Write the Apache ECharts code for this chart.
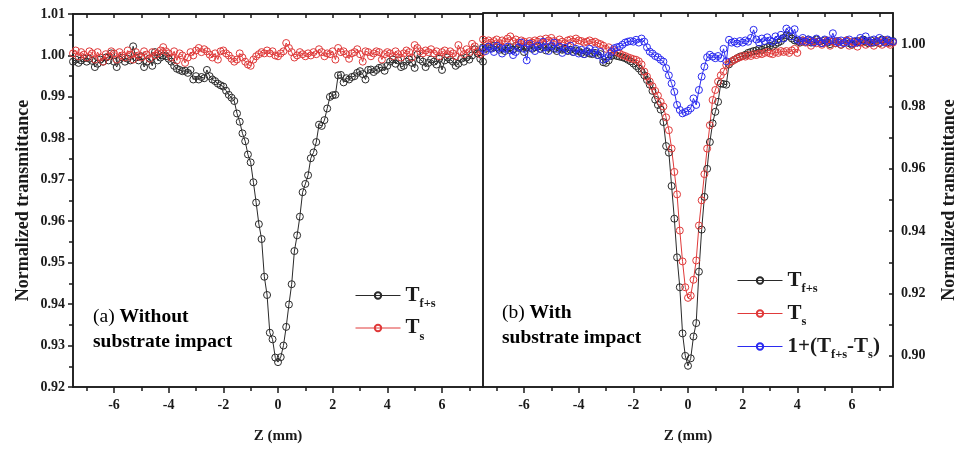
<!DOCTYPE html>
<html>
<head>
<meta charset="utf-8">
<script src="https://cdn.jsdelivr.net/npm/echarts@6/dist/echarts.min.js"></script>
<style>html,body{margin:0;padding:0;background:#fff;}#c{width:956px;height:449px;}</style>
</head>
<body>
<div id="c"></div>
<script>
// Z positions (mm)
const zs = [
-7.5,-7.4,-7.3,-7.2,-7.1,-7.0,-6.9,-6.8,-6.7,-6.6,
-6.5,-6.4,-6.3,-6.2,-6.1,-6.0,-5.9,-5.8,-5.7,-5.6,
-5.5,-5.4,-5.3,-5.2,-5.1,-5.0,-4.9,-4.8,-4.7,-4.6,
-4.5,-4.4,-4.3,-4.2,-4.1,-4.0,-3.9,-3.8,-3.7,-3.6,
-3.5,-3.4,-3.3,-3.2,-3.1,-3.0,-2.9,-2.8,-2.7,-2.6,
-2.5,-2.4,-2.3,-2.2,-2.1,-2.0,-1.9,-1.8,-1.7,-1.6,
-1.5,-1.4,-1.3,-1.2,-1.1,-1.0,-0.9,-0.8,-0.7,-0.6,
-0.5,-0.4,-0.3,-0.2,-0.1,0.0,0.1,0.2,0.3,0.4,
0.5,0.6,0.7,0.8,0.9,1.0,1.1,1.2,1.3,1.4,
1.5,1.6,1.7,1.8,1.9,2.0,2.1,2.2,2.3,2.4,
2.5,2.6,2.7,2.8,2.9,3.0,3.1,3.2,3.3,3.4,
3.5,3.6,3.7,3.8,3.9,4.0,4.1,4.2,4.3,4.4,
4.5,4.6,4.7,4.8,4.9,5.0,5.1,5.2,5.3,5.4,
5.5,5.6,5.7,5.8,5.9,6.0,6.1,6.2,6.3,6.4,
6.5,6.6,6.7,6.8,6.9,7.0,7.1,7.2,7.3,7.4,
7.5];

// (a) Without substrate impact
const aTfs = [
0.9985,0.9990,0.9982,0.9988,0.9993,0.9985,0.9992,0.9987,0.9972,0.9980,
0.9990,0.9985,0.9995,0.9988,1.0005,0.9985,0.9972,0.9990,0.9995,0.9985,
0.9992,0.9988,1.0022,0.9995,0.9988,0.9998,0.9972,0.9985,0.9993,0.9975,
1.0008,0.9988,0.9995,1.0000,0.9998,0.9992,0.9985,0.9975,0.9968,0.9965,
0.9962,0.9963,0.9958,0.9965,0.9942,0.9950,0.9942,0.9948,0.9945,0.9965,
0.9950,0.9942,0.9938,0.9932,0.9928,0.9925,0.9915,0.9905,0.9898,0.9890,
0.9860,0.9840,0.9812,0.9793,0.9761,0.9742,0.9694,0.9645,0.9593,0.9557,
0.9466,0.9422,0.9331,0.9315,0.9271,0.9260,0.9272,0.9300,0.9345,0.9399,
0.9448,0.9528,0.9566,0.9611,0.9670,0.9690,0.9711,0.9752,0.9766,0.9791,
0.9833,0.9830,0.9844,0.9872,0.9900,0.9904,0.9905,0.9952,0.9953,0.9935,
0.9945,0.9942,0.9948,0.9950,0.9958,0.9962,0.9955,0.9942,0.9965,0.9966,
0.9960,0.9965,0.9970,0.9972,0.9963,0.9975,0.9985,0.9990,0.9980,0.9988,
0.9972,0.9975,0.9985,0.9990,0.9982,0.9970,1.0002,0.9990,0.9985,0.9972,
0.9982,0.9990,0.9985,0.9978,0.9992,0.9965,0.9988,0.9995,0.9990,0.9985,
0.9975,0.9980,0.9992,0.9985,0.9995,0.9990,1.0000,1.0015,1.0005,0.9992,
0.9985];
const aTs = [
1.0005,1.0012,0.9998,1.0008,1.0002,0.9995,1.0010,1.0005,0.9990,1.0008,
0.9995,0.9985,1.0003,0.9998,1.0010,1.0005,0.9990,1.0008,1.0000,0.9995,
1.0012,1.0002,0.9990,1.0008,1.0000,0.9995,1.0010,1.0002,0.9992,1.0008,
1.0000,1.0005,1.0012,1.0020,1.0010,1.0005,0.9995,1.0010,0.9988,1.0005,
1.0000,0.9982,0.9995,1.0008,1.0000,1.0012,1.0018,1.0008,1.0015,1.0010,
1.0002,0.9995,1.0005,0.9990,1.0010,1.0012,1.0005,1.0000,0.9992,0.9985,
0.9990,1.0005,0.9995,0.9985,0.9978,0.9975,0.9990,0.9998,1.0003,1.0008,
1.0005,1.0012,1.0005,1.0010,1.0000,0.9998,1.0005,1.0010,1.0030,1.0018,
1.0008,0.9995,1.0000,1.0008,1.0003,0.9998,1.0005,1.0000,1.0008,1.0003,
1.0015,1.0008,0.9998,1.0005,1.0003,1.0010,0.9990,1.0018,1.0008,1.0010,
1.0003,0.9992,1.0005,1.0008,1.0015,1.0003,0.9985,1.0010,1.0008,0.9998,
1.0005,1.0010,1.0008,0.9990,1.0003,1.0008,1.0005,0.9998,1.0010,1.0003,
0.9995,1.0005,1.0012,1.0008,0.9995,1.0025,1.0018,1.0010,1.0005,1.0012,
1.0008,1.0015,1.0005,1.0010,0.9998,1.0008,1.0012,1.0003,1.0010,1.0005,
0.9998,1.0025,1.0010,1.0003,1.0015,1.0008,1.0028,1.0022,1.0010,1.0003,
1.0008];

// (b) With substrate impact
const bTfs = [
0.9990,0.9985,0.9992,0.9988,0.9995,0.9990,0.9982,0.9988,0.9978,0.9985,
0.9990,0.9983,0.9995,0.9988,0.9992,0.9975,0.9990,0.9995,0.9985,0.9990,
0.9992,0.9985,0.9990,0.9980,0.9988,0.9992,0.9985,0.9978,0.9988,0.9982,
0.9985,0.9978,0.9982,0.9975,0.9980,0.9978,0.9972,0.9968,0.9975,0.9970,
0.9968,0.9972,0.9965,0.9968,0.9942,0.9940,0.9948,0.9962,0.9965,0.9962,
0.9960,0.9958,0.9955,0.9950,0.9945,0.9938,0.9930,0.9922,0.9912,0.9900,
0.9885,0.9870,0.9850,0.9822,0.9805,0.9790,0.9750,0.9673,0.9652,0.9545,
0.9440,0.9316,0.9220,0.9072,0.9000,0.8968,0.8992,0.9062,0.9105,0.9270,
0.9405,0.9510,0.9600,0.9686,0.9746,0.9783,0.9815,0.9874,0.9872,0.9870,
0.9935,0.9945,0.9950,0.9955,0.9960,0.9962,0.9966,0.9972,0.9975,0.9978,
0.9980,0.9985,0.9982,0.9988,0.9990,0.9995,0.9992,1.0000,1.0005,1.0010,
1.0020,1.0028,1.0025,1.0018,1.0012,1.0010,1.0005,1.0012,1.0008,1.0015,
1.0005,1.0010,1.0015,1.0008,1.0003,1.0012,1.0005,1.0000,1.0008,1.0003,
1.0010,0.9998,1.0005,1.0012,1.0003,0.9998,1.0008,1.0010,1.0005,1.0015,
1.0008,1.0003,1.0012,1.0005,1.0010,1.0003,1.0015,1.0008,1.0012,1.0005,
1.0010];
const bTs = [
1.0015,1.0008,1.0012,1.0005,1.0010,1.0015,1.0003,1.0012,1.0008,1.0018,
1.0025,1.0010,1.0015,1.0005,1.0012,1.0008,1.0002,1.0010,1.0005,1.0012,
1.0008,1.0015,1.0005,1.0018,1.0012,1.0020,1.0010,1.0005,1.0015,1.0008,
1.0003,1.0012,1.0015,1.0008,1.0018,1.0012,1.0010,1.0005,1.0008,1.0012,
1.0005,1.0008,1.0003,1.0000,0.9995,0.9985,0.9990,0.9978,0.9982,0.9975,
0.9970,0.9965,0.9962,0.9958,0.9955,0.9952,0.9950,0.9945,0.9935,0.9912,
0.9896,0.9880,0.9865,0.9850,0.9835,0.9815,0.9800,0.9765,0.9724,0.9665,
0.9590,0.9518,0.9402,0.9303,0.9220,0.9186,0.9193,0.9244,0.9306,0.9418,
0.9499,0.9583,0.9665,0.9740,0.9821,0.9853,0.9880,0.9900,0.9912,0.9933,
0.9940,0.9945,0.9950,0.9955,0.9958,0.9962,0.9960,0.9965,0.9962,0.9968,
0.9965,0.9970,0.9968,0.9972,0.9975,0.9970,0.9968,0.9975,0.9972,0.9978,
0.9975,0.9978,0.9972,0.9980,0.9985,0.9972,1.0008,1.0012,1.0005,1.0010,
0.9995,1.0008,1.0003,1.0010,0.9998,1.0005,1.0012,0.9995,1.0008,1.0003,
1.0010,0.9998,1.0005,1.0012,0.9995,1.0008,1.0003,0.9992,1.0010,1.0005,
0.9998,1.0008,1.0003,0.9995,1.0010,1.0005,0.9998,1.0012,1.0003,0.9998,
1.0005];
const bDiff = [
0.9985,0.9978,0.9992,0.9985,0.9975,0.9995,0.9988,0.9970,0.9985,0.9992,
0.9980,0.9965,0.9975,0.9990,1.0005,0.9985,0.9948,1.0002,0.9988,0.9978,
0.9995,0.9985,1.0008,0.9990,0.9978,0.9995,1.0005,0.9985,0.9992,0.9972,
0.9988,0.9980,0.9995,0.9975,0.9985,0.9970,0.9982,0.9968,0.9978,0.9985,
0.9972,0.9980,0.9965,0.9975,0.9950,0.9955,0.9962,0.9975,0.9987,0.9990,
0.9992,0.9998,1.0005,1.0008,1.0010,1.0008,1.0014,1.0005,1.0018,1.0008,
0.9990,0.9976,0.9970,0.9962,0.9958,0.9950,0.9944,0.9923,0.9900,0.9874,
0.9847,0.9805,0.9789,0.9778,0.9782,0.9786,0.9794,0.9826,0.9805,0.9853,
0.9896,0.9928,0.9958,0.9966,0.9960,0.9955,0.9962,0.9955,0.9985,0.9945,
1.0014,1.0005,1.0008,1.0002,1.0010,1.0005,1.0012,1.0008,1.0020,1.0046,
1.0015,1.0005,1.0018,1.0010,1.0022,1.0012,1.0008,1.0025,1.0015,1.0030,
1.0018,1.0050,1.0042,1.0025,1.0048,1.0015,1.0010,1.0020,1.0008,1.0015,
1.0012,1.0005,1.0018,1.0010,1.0003,1.0015,1.0008,1.0012,1.0035,1.0010,
1.0005,1.0012,1.0003,1.0008,1.0015,1.0002,1.0010,1.0005,1.0020,1.0012,
1.0025,1.0010,1.0005,1.0015,1.0008,1.0020,1.0012,1.0005,1.0015,1.0010,
1.0008];

// tick labels / tick positions
const xLabelTicks = [-6,-4,-2,0,2,4,6];
const xMinorTicks = [-7,-5,-3,-1,1,3,5,7];
const xAllTicks = [-7,-6,-5,-4,-3,-2,-1,0,1,2,3,4,5,6,7];
const yRightLabels = [0.90,0.92,0.94,0.96,0.98,1.00];
const yRightTicks = [0.90,0.91,0.92,0.93,0.94,0.95,0.96,0.97,0.98,0.99,1.00];

const FONT = "'Liberation Serif','Times New Roman',serif";
const INK = '#1a1a1a';
const BLACK = '#2a2a2a', RED = '#e03a3a', BLUE = '#2b2bf0';

function pts(arr){ return zs.map((z,i)=>[z, arr[i]]); }

const legendRich = {
  m:{fontFamily:FONT,fontSize:21,fontWeight:'bold',color:INK,lineHeight:30,verticalAlign:'middle'},
  s:{fontFamily:FONT,fontSize:12.5,fontWeight:'bold',color:INK,lineHeight:11,verticalAlign:'bottom'}
};
function legendFmt(name){
  if(name==='Tf+s') return '{m|T}{s|f+s}';
  if(name==='Ts') return '{m|T}{s|s}';
  return '{m|1+(T}{s|f+s}{m|-T}{s|s}{m|)}';
}

const axLine = {show:true, onZero:false, lineStyle:{color:INK,width:1.5}};
const tickLabel = {fontFamily:FONT,fontWeight:'bold',fontSize:14,color:INK};

function xAxes(g){
  return [
    {type:'value',gridIndex:g,position:'bottom',min:-7.5,max:7.5,
     axisLine:axLine,splitLine:{show:false},
     axisTick:{show:true,customValues:xLabelTicks,length:6,lineStyle:{color:INK,width:1.5}},
     axisLabel:Object.assign({customValues:xLabelTicks,margin:11},tickLabel),
     name:'Z (mm)',nameLocation:'middle',nameGap:42,
     nameTextStyle:{fontFamily:FONT,fontWeight:'bold',fontSize:15,color:INK}},
    {type:'value',gridIndex:g,position:'bottom',min:-7.5,max:7.5,
     axisLine:{show:false,onZero:false},splitLine:{show:false},
     axisTick:{show:true,customValues:xMinorTicks,length:4,lineStyle:{color:INK,width:1.5}},
     axisLabel:{show:false}},
    {type:'value',gridIndex:g,position:'top',min:-7.5,max:7.5,
     axisLine:axLine,splitLine:{show:false},
     axisTick:{show:true,inside:true,customValues:xAllTicks,length:4,lineStyle:{color:INK,width:1.5}},
     axisLabel:{show:false}}
  ];
}

const option = {
  backgroundColor:'#fff',
  animation:false,
  grid:[
    {left:73,top:14,width:410,height:373,show:true,borderColor:INK,borderWidth:1.5,containLabel:false,outerBoundsMode:'none'},
    {left:483,top:13,width:410,height:374,show:true,borderColor:INK,borderWidth:1.5,containLabel:false,outerBoundsMode:'none'}
  ],
  xAxis:[].concat(xAxes(0), xAxes(1)),
  yAxis:[
    {type:'value',gridIndex:0,position:'left',min:0.92,max:1.01,interval:0.01,
     axisLine:axLine,splitLine:{show:false},
     axisTick:{show:true,length:5,lineStyle:{color:INK,width:1.5}},
     minorTick:{show:true,splitNumber:2,length:4,lineStyle:{color:INK,width:1.5}},
     axisLabel:Object.assign({margin:8,formatter:v=>v.toFixed(2)},tickLabel),
     name:'Normalized transmittance',nameLocation:'middle',nameGap:41,nameRotate:90,
     nameTextStyle:{fontFamily:FONT,fontWeight:'bold',fontSize:18,color:INK}},
    {type:'value',gridIndex:1,position:'right',min:0.89,max:1.01,
     axisLine:axLine,splitLine:{show:false},
     axisTick:{show:true,inside:true,customValues:yRightTicks,length:4,lineStyle:{color:INK,width:1.5}},
     axisLabel:Object.assign({customValues:yRightLabels,margin:8,formatter:v=>v.toFixed(2)},tickLabel),
     name:'Normalized transmittance',nameLocation:'middle',nameGap:47,nameRotate:90,
     nameTextStyle:{fontFamily:FONT,fontWeight:'bold',fontSize:18,color:INK}}
  ],
  legend:[
    {left:350,top:280,orient:'vertical',itemWidth:45,itemHeight:8,itemGap:7,
     data:['Tf+s','Ts'],formatter:legendFmt,textStyle:{rich:legendRich},selectedMode:false,
     lineStyle:{width:1}},
    {left:732,top:265,orient:'vertical',itemWidth:45,itemHeight:8,itemGap:7.5,
     data:['Tf+s','Ts','1+(Tf+s-Ts)'],formatter:legendFmt,textStyle:{rich:legendRich},selectedMode:false,
     lineStyle:{width:1}}
  ],
  graphic:[
    {type:'text',left:93,top:307,style:{
      text:'{n|(a) }{b|Without}\n{b|substrate impact}',
      rich:{n:{fontFamily:FONT,fontSize:19.5,color:INK,lineHeight:25},
            b:{fontFamily:FONT,fontSize:19.5,fontWeight:'bold',color:INK,lineHeight:25}}}},
    {type:'text',left:502,top:303,style:{
      text:'{n|(b) }{b|With}\n{b|substrate impact}',
      rich:{n:{fontFamily:FONT,fontSize:19.5,color:INK,lineHeight:25},
            b:{fontFamily:FONT,fontSize:19.5,fontWeight:'bold',color:INK,lineHeight:25}}}}
  ],
  series:[
    mk('Tf+s',aTfs,BLACK,0,0),
    mk('Ts',aTs,RED,0,0),
    mk('Tf+s',bTfs,BLACK,3,1),
    mk('Ts',bTs,RED,3,1),
    mk('1+(Tf+s-Ts)',bDiff,BLUE,3,1)
  ]
};
function mk(name,arr,c,xi,yi){
  return {name:name,type:'line',xAxisIndex:xi,yAxisIndex:yi,data:pts(arr),
    symbol:'circle',symbolSize:7,showSymbol:true,
    lineStyle:{color:c,width:1},
    itemStyle:{color:'rgba(255,255,255,0)',borderColor:c,borderWidth:1},
    emphasis:{disabled:true}};
}
const chart = echarts.init(document.getElementById('c'),null,{renderer:'canvas'});
chart.setOption(option);
</script>
</body>
</html>
